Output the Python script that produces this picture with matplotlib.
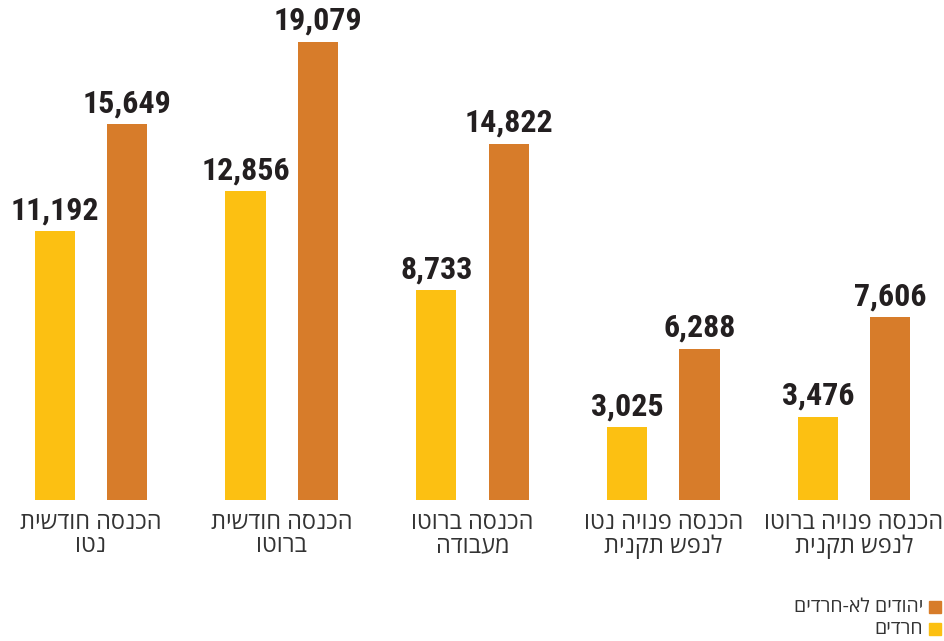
import numpy as np
import matplotlib
matplotlib.use("Agg")
import matplotlib.pyplot as plt
from matplotlib.patches import Rectangle
from matplotlib import font_manager

# data (left to right as drawn)
categories = [
    "הכנסה חודשית\nנטו",
    "הכנסה חודשית\nברוטו",
    "הכנסה ברוטו\nמעבודה",
    "הכנסה פנויה נטו\nלנפש תקנית",
    "הכנסה פנויה ברוטו\nלנפש תקנית",
]
haredim = [11192, 12856, 8733, 3025, 3476]
non_haredim = [15649, 19079, 14822, 6288, 7606]
series_names = ["יהודים לא-חרדים", "חרדים"]

YELLOW = "#FCC012"
ORANGE = "#D77C2A"
TXT = "#231F20"


def rtl(s):
    # matplotlib has no bidi support: put Hebrew into visual order, line by line
    return "\n".join(line[::-1] for line in s.split("\n"))


# pick the narrowest face available for the numbers
names = {f.name for f in font_manager.fontManager.ttflist}
num_kw = None
for cand in ["Roboto Condensed", "Open Sans Condensed", "Liberation Sans Narrow",
             "Arial Narrow", "Noto Sans Condensed"]:
    if cand in names:
        num_kw = dict(family=[cand, "DejaVu Sans"])
        break
if num_kw is None:
    num_kw = dict(family=["DejaVu Sans"], fontstretch="condensed")

plt.rcParams["font.family"] = ["Open Sans", "DejaVu Sans"]

fig = plt.figure(figsize=(9.45, 6.41), dpi=100)
ax = fig.add_axes([0, 141 / 641, 1, 500 / 641])

x = np.arange(len(categories))
w = 0.21
off = 0.19
b1 = ax.bar(x - off, haredim, w, color=YELLOW)
b2 = ax.bar(x + off, non_haredim, w, color=ORANGE)

ax.set_xlim(-0.477, 4.477)
ax.set_ylim(0, 19079 * 500 / 458)
ax.axis("off")

for bars, vals in ((b1, haredim), (b2, non_haredim)):
    for b, v in zip(bars, vals):
        ax.annotate(f"{v:,}", (b.get_x() + b.get_width() / 2, v),
                    xytext=(0, 4.5), textcoords="offset points",
                    ha="center", va="bottom", fontsize=23, fontweight="bold",
                    color=TXT, **num_kw)

for xi, lab in zip(x, categories):
    ax.annotate(rtl(lab), (xi, 0), xycoords=("data", "axes fraction"),
                xytext=(0, -8), textcoords="offset points",
                ha="center", va="top", multialignment="center",
                fontsize=17, color="#333333", linespacing=0.95)

# legend, bottom right
for i, (name, col) in enumerate(zip(series_names, [ORANGE, YELLOW])):
    yc = 1 - (607 + 22 * i) / 641
    fig.patches.append(Rectangle((929 / 945, yc - 6 / 641), 12 / 945, 12 / 641,
                                 transform=fig.transFigure, color=col))
    fig.text(923 / 945, yc, rtl(name), ha="right", va="center",
             fontsize=14, color="#333333")

fig.savefig("out.png", dpi=100)
